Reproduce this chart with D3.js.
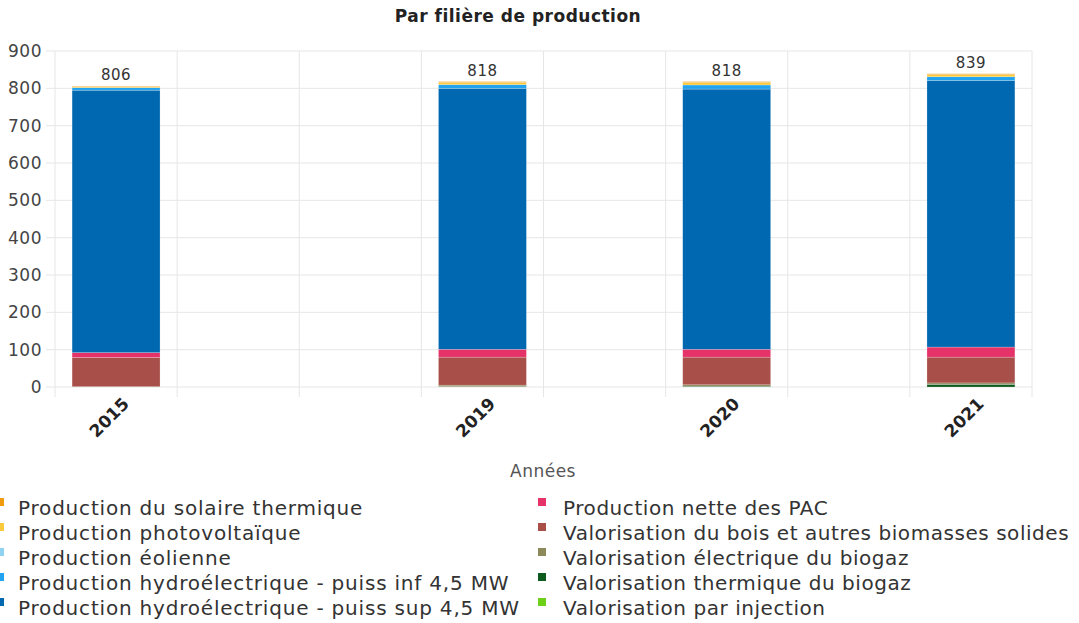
<!DOCTYPE html>
<html>
<head>
<meta charset="utf-8">
<script src="https://cdn.jsdelivr.net/npm/d3@7"></script>
<style>
  body { margin: 0; background: #fff; }
  svg { font-family: "DejaVu Sans", sans-serif; }
</style>
</head>
<body>
<div id="chart"></div>
<script>
// Years shown and the column slot each one sits in (8 slots on the axis)
const years = ["2015", "2019", "2020", "2021"];
const slots = [0, 3, 5, 7];
const slotCount = 8;

// Series, bottom of the stack first
const series = [
    "Valorisation par injection",
    "Valorisation thermique du biogaz",
    "Valorisation électrique du biogaz",
    "Valorisation du bois et autres biomasses solides",
    "Production nette des PAC",
    "Production hydroélectrique - puiss sup 4,5 MW",
    "Production hydroélectrique - puiss inf 4,5 MW",
    "Production éolienne",
    "Production photovoltaïque",
    "Production du solaire thermique"
];
const colors = ["#6fd01a", "#0e5a1f", "#8c8a5b", "#a84f49", "#e5336a",
                "#0068b0", "#22a3f0", "#90d2f2", "#fccb3c", "#f09a12"];

// Values per series, one per year (same order as years)
const injection   = [0, 0, 0, 0];
const biogazTherm = [0, 1, 2, 7];
const biogazElec  = [1, 4, 4, 4];
const bois        = [78, 75, 74, 69];
const pac         = [13, 21, 21, 27];
const hydroSup    = [703, 699, 697, 714];
const hydroInf    = [7, 10, 11, 10];
const eolien      = [0, 0, 0, 0];
const pv          = [3, 6, 7, 6];
const solaireTh   = [1, 2, 2, 2];

const values = [injection, biogazTherm, biogazElec, bois, pac, hydroSup, hydroInf, eolien, pv, solaireTh];

// Legend, read column by column
const legendCol1 = series.slice(5).reverse();
const legendCol2 = series.slice(0, 5).reverse();

const yTicks = [0, 100, 200, 300, 400, 500, 600, 700, 800, 900];

const W = 1079, H = 623;
const margin = { top: 51, right: 47, bottom: 236, left: 55 };
const width = W - margin.left - margin.right;
const height = H - margin.top - margin.bottom;

const svg = d3.select("#chart").append("svg")
    .attr("width", W)
    .attr("height", H);

// Title
svg.append("text")
    .attr("x", 518)
    .attr("y", 22)
    .attr("text-anchor", "middle")
    .style("font-size", "17px")
    .style("font-weight", "bold")
    .style("letter-spacing", "0.5px")
    .style("fill", "#222")
    .text("Par filière de production");

const g = svg.append("g")
    .attr("transform", `translate(${margin.left},${margin.top})`);

// Build table rows
const rows = years.map((yr, i) => {
    const r = { year: yr, slot: slots[i] };
    series.forEach((s, k) => r[s] = values[k][i]);
    return r;
});

const stacked = d3.stack().keys(series)(rows);

const x = d3.scaleBand()
    .domain(d3.range(slotCount))
    .range([0, width])
    .paddingInner(0.28)
    .paddingOuter(0.14);

const y = d3.scaleLinear()
    .domain([0, 900])
    .range([height, 0]);

const step = x.step();

// Horizontal grid
g.append("g")
    .selectAll("line")
    .data(yTicks)
    .join("line")
    .attr("x1", -9)
    .attr("x2", width)
    .attr("y1", d => y(d))
    .attr("y2", d => y(d))
    .attr("stroke", "#e6e6e6");

// Vertical grid at slot boundaries
g.append("g")
    .selectAll("line")
    .data(d3.range(slotCount + 1))
    .join("line")
    .attr("x1", d => d * step)
    .attr("x2", d => d * step)
    .attr("y1", 0)
    .attr("y2", height + 10)
    .attr("stroke", "#e6e6e6");

// Y labels
g.append("g")
    .selectAll("text")
    .data(yTicks)
    .join("text")
    .attr("x", -13)
    .attr("y", d => y(d))
    .attr("dy", "0.35em")
    .attr("text-anchor", "end")
    .style("font-size", "17px")
    .style("letter-spacing", "0.5px")
    .style("fill", "#444")
    .text(d => d);

// Bars
g.append("g")
    .selectAll("g")
    .data(stacked)
    .join("g")
    .attr("fill", (d, i) => colors[i])
    .selectAll("rect")
    .data(d => d)
    .join("rect")
    .attr("x", d => x(d.data.slot))
    .attr("width", x.bandwidth())
    .attr("y", d => y(d[1]))
    .attr("height", d => y(d[0]) - y(d[1]))
    .attr("stroke", "rgba(255,255,255,0.35)")
    .attr("stroke-width", 0.6);

// Totals above bars
g.append("g")
    .selectAll("text")
    .data(rows)
    .join("text")
    .attr("x", d => x(d.slot) + x.bandwidth() / 2)
    .attr("y", d => y(d3.sum(series, s => d[s])) - 6)
    .attr("text-anchor", "middle")
    .style("font-size", "15px")
    .style("letter-spacing", "0.5px")
    .style("fill", "#333")
    .text(d => d3.sum(series, s => d[s]));

// X labels, rotated
g.append("g")
    .selectAll("text")
    .data(rows)
    .join("text")
    .attr("transform", d => `translate(${x(d.slot) + x.bandwidth() / 2 + 14},${height + 18}) rotate(-45)`)
    .attr("text-anchor", "end")
    .style("font-size", "17px")
    .style("font-weight", "bold")
    .style("fill", "#222")
    .text(d => d.year);

// Axis title
svg.append("text")
    .attr("x", 543)
    .attr("y", 477)
    .attr("text-anchor", "middle")
    .style("font-size", "17px")
    .style("letter-spacing", "0.5px")
    .style("fill", "#555")
    .text("Années");

// Legend
const legend = svg.append("g");
[legendCol1, legendCol2].forEach((col, c) => {
    const lx = c === 0 ? -4 : 538;
    col.forEach((name, i) => {
        const ly = 508 + i * 25;
        legend.append("rect")
            .attr("x", lx)
            .attr("y", ly - 10)
            .attr("width", 8)
            .attr("height", 8)
            .attr("fill", colors[series.indexOf(name)]);
        legend.append("text")
            .attr("x", lx + (c === 0 ? 22 : 25))
            .attr("y", ly)
            .attr("dy", "0.35em")
            .style("font-size", "20px")
            .style("letter-spacing", c === 0 ? "0.8px" : "0.55px")
            .style("fill", "#333")
            .text(name);
    });
});
</script>
</body>
</html>
